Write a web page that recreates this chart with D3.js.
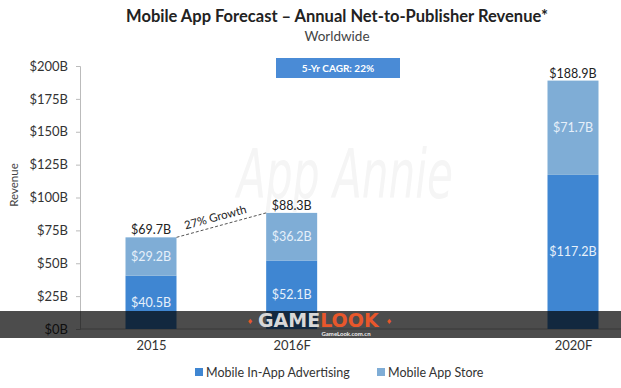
<!DOCTYPE html>
<html lang="en">
<head>
<meta charset="utf-8">
<title>Mobile App Forecast</title>
<script src="https://cdn.jsdelivr.net/npm/d3@7"></script>
<style>
  body { margin: 0; background: #fff; }
  text { font-family: Lato, "Open Sans", sans-serif; fill: #333; }
</style>
</head>
<body>
<svg width="621" height="388"></svg>
<script>
// data
var years = ["2015", "2016F", "2020F"];
var slots = ["2015", "2016F", "gap", "2020F"];
var advertising = [40.5, 52.1, 117.2];
var appStore = [29.2, 36.2, 71.7];
var totals = [69.7, 88.3, 188.9];
var yTicks = [0, 25, 50, 75, 100, 125, 150, 175, 200];
var seriesNames = ["Mobile In-App Advertising", "Mobile App Store"];
var colors = ["#3f86d2", "#7fadd6"];
var growthLabel = "27% Growth";
var cagrLabel = "5-Yr CAGR: 22%";

var svg = d3.select("svg");

var x = d3.scalePoint().domain(slots).range([151, 573]);
var y = d3.scaleLinear().domain([0, 200]).range([329, 66]);
var barW = 51;
var fmt = function(v) { return "$" + v + "B"; };

// faint watermark
svg.append("text")
   .attr("x", 237).attr("y", 198)
   .attr("textLength", 216).attr("lengthAdjust", "spacingAndGlyphs")
   .style("font-family", "'Liberation Sans Narrow', 'DejaVu Sans Condensed', sans-serif")
   .style("font-style", "italic")
   .style("font-size", "68px")
   .style("fill", "#f5f5f5")
   .text("App Annie");

// title
svg.append("text")
   .attr("x", 337).attr("y", 22)
   .attr("text-anchor", "middle")
   .style("font-size", "16.5px").style("font-weight", "bold").style("fill", "#222")
   .text("Mobile App Forecast \u2013 Annual Net-to-Publisher Revenue*");
svg.append("text")
   .attr("x", 337).attr("y", 41)
   .attr("text-anchor", "middle")
   .style("font-size", "13.5px").style("fill", "#444")
   .text("Worldwide");

// y axis
var yAxis = svg.append("g")
   .attr("transform", "translate(80,0)")
   .call(d3.axisLeft(y).tickValues(yTicks).tickSize(4).tickPadding(8).tickFormat(fmt));
yAxis.select(".domain").attr("stroke", "#bbb");
yAxis.selectAll(".tick line").attr("stroke", "#bbb");
yAxis.selectAll(".tick text").style("font-size", "13px").style("fill", "#333")
     .style("font-family", "Lato, sans-serif");

svg.append("text")
   .attr("transform", "translate(18,185) rotate(-90)")
   .attr("text-anchor", "middle")
   .style("font-size", "11.5px").style("fill", "#444")
   .text("Revenue");

// x axis
var xAxis = svg.append("g")
   .attr("transform", "translate(0,329)")
   .call(d3.axisBottom(x).tickValues(years).tickSize(0).tickPadding(12));
xAxis.select(".domain").attr("stroke", "#bbb").attr("d", "M80,0H621");
xAxis.selectAll(".tick text").style("font-size", "13px").style("fill", "#333")
     .style("font-family", "Lato, sans-serif");

// bars
var rows = years.map(function(yr, i) {
  return { year: yr, ad: advertising[i], store: appStore[i], total: totals[i] };
});

var g = svg.append("g");
g.selectAll(".ad").data(rows).enter().append("rect")
 .attr("x", function(d) { return x(d.year) - barW / 2; })
 .attr("y", function(d) { return y(d.ad); })
 .attr("width", barW)
 .attr("height", function(d) { return y(0) - y(d.ad); })
 .attr("fill", colors[0]);
g.selectAll(".store").data(rows).enter().append("rect")
 .attr("x", function(d) { return x(d.year) - barW / 2; })
 .attr("y", function(d) { return y(d.ad + d.store); })
 .attr("width", barW)
 .attr("height", function(d) { return y(d.ad) - y(d.ad + d.store); })
 .attr("fill", colors[1]);

// segment labels
g.selectAll(".adlbl").data(rows).enter().append("text")
 .attr("x", function(d) { return x(d.year); })
 .attr("y", function(d) { return y(d.ad / 2); })
 .attr("dy", "0.35em").attr("text-anchor", "middle")
 .style("font-size", "12.5px").style("fill", "#e6f0fa")
 .text(function(d) { return fmt(d.ad); });
g.selectAll(".stlbl").data(rows).enter().append("text")
 .attr("x", function(d) { return x(d.year); })
 .attr("y", function(d) { return y(d.ad + d.store / 2); })
 .attr("dy", "0.35em").attr("text-anchor", "middle")
 .style("font-size", "12.5px").style("fill", "#e6f0fa")
 .text(function(d) { return fmt(d.store); });
g.selectAll(".tot").data(rows).enter().append("text")
 .attr("x", function(d) { return x(d.year); })
 .attr("y", function(d) { return y(d.total) - 3; })
 .attr("text-anchor", "middle")
 .style("font-size", "12.5px").style("fill", "#222")
 .text(function(d) { return fmt(d.total); });

// growth annotation
var x1 = x(years[0]) + barW / 2, y1 = y(totals[0]);
var x2 = x(years[1]) - barW / 2, y2 = y(totals[1]);
svg.append("line")
   .attr("x1", x1).attr("y1", y1).attr("x2", x2).attr("y2", y2)
   .attr("stroke", "#555").attr("stroke-dasharray", "3,2");
var ang = Math.atan2(y2 - y1, x2 - x1) * 180 / Math.PI;
svg.append("text")
   .attr("transform", "translate(" + ((x1 + x2) / 2 - 5) + "," + ((y1 + y2) / 2 - 4) + ") rotate(" + ang + ")")
   .attr("text-anchor", "middle")
   .style("font-size", "11.5px").style("fill", "#222")
   .text(growthLabel);

// CAGR box
svg.append("rect").attr("x", 276).attr("y", 58).attr("width", 124).attr("height", 20).attr("fill", "#4a8bd6");
svg.append("text")
   .attr("x", 338).attr("y", 68).attr("dy", "0.35em")
   .attr("text-anchor", "middle")
   .style("font-size", "10px").style("font-weight", "bold").style("fill", "#fff")
   .text(cagrLabel);

// legend
var leg = svg.append("g");
var legX = [195, 377];
seriesNames.forEach(function(name, i) {
  leg.append("rect").attr("x", legX[i]).attr("y", 368).attr("width", 8).attr("height", 8).attr("fill", colors[i]);
  leg.append("text").attr("x", legX[i] + 11).attr("y", 377)
     .style("font-size", "12.5px").style("fill", "#333").text(name);
});

// GAMELOOK overlay band
svg.append("rect").attr("x", 0).attr("y", 311).attr("width", 621).attr("height", 27)
   .attr("fill", "#000").attr("opacity", 0.7);
var wm = svg.append("text").attr("x", 258).attr("y", 327)
   .style("font-family", "'DejaVu Sans', sans-serif").style("font-weight", "bold").style("font-size", "19px");
wm.append("tspan").style("fill", "#d8d8d8").text("GAME");
wm.append("tspan").style("fill", "#e8572b").text("LOOK");
svg.append("text").attr("x", 250).attr("y", 324).attr("text-anchor", "middle")
   .style("font-size", "9px").style("fill", "#e8572b").text("\u2666");
svg.append("text").attr("x", 389).attr("y", 324).attr("text-anchor", "middle")
   .style("font-size", "9px").style("fill", "#e8572b").text("\u2666");
svg.append("text").attr("x", 346).attr("y", 336).attr("text-anchor", "middle")
   .style("font-size", "6px").style("font-weight", "bold").style("fill", "#eee").text("GameLook.com.cn");
</script>
</body>
</html>
